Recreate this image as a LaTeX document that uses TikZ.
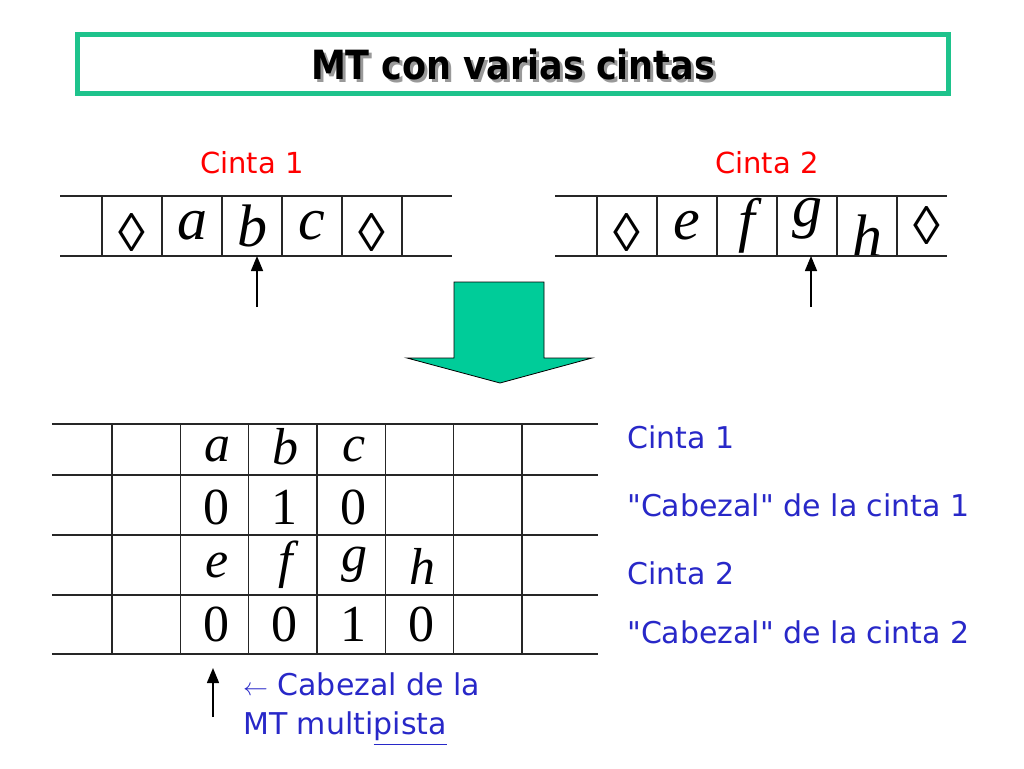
\documentclass[tikz,border=0pt]{standalone}
\usepackage{amsmath,amssymb}
\usepackage{fontspec}
\usepackage{tikz}
\usetikzlibrary{arrows.meta}
\setmainfont{DejaVu Sans}[Ligatures=TeXOff]
\newfontfamily\timesfont{Liberation Serif}
\definecolor{titlegreen}{RGB}{30,195,140}
\definecolor{arrowgreen}{RGB}{0,204,153}
\definecolor{labelblue}{RGB}{40,40,200}
\newcommand{\loz}{{\fontsize{54}{54}\selectfont ◊}}

\begin{document}
\begin{tikzpicture}
	[x=1pt, y=-1pt,
	tape/.style={line width=1.2pt, draw=black!85},
	cell/.style={minimum width=60pt, minimum height=60pt, inner sep=0pt, outer sep=0pt},
	mcell/.style={minimum width=68.33pt, inner sep=0pt, outer sep=0pt},
	sym/.style={font=\fontsize{60}{60}\selectfont\timesfont\itshape, inner sep=0pt},
	bsym/.style={font=\fontsize{52}{52}\selectfont\timesfont, inner sep=0pt},
	head/.style={line width=1.5pt, -{Triangle[width=12pt,length=15pt]}},
	tapename/.style={font=\fontsize{29}{34}\selectfont, text=red},
	bluetext/.style={font=\fontsize{30}{39}\selectfont, text=labelblue, inner sep=0pt},
	headline/.style={font=\fontsize{35}{40}\selectfont\bfseries}]
	\useasboundingbox (0,0) rectangle (1024,768);

	% title
	\node[draw=titlegreen, line width=5pt, minimum width=871pt, minimum height=59pt] (title) at (513,64) {};
	\node[headline, text=black!40] (titleshadow) at ([shift={(3,3)}]title) {\scalebox{1}[1.15]{MT con varias cintas}};
	\node[headline] (titletext) at (title) {\scalebox{1}[1.15]{MT con varias cintas}};

	% cinta 1
	\node[tapename] (name1) at (252,163) {Cinta 1};
	\foreach \s/\dy [count=\i] in {\loz/-7, a/0, b/0, c/0, \loz/-7} {
		\node[cell] (t1c\i) at (72+60*\i, 226) {};
		\node[sym, yshift=\dy pt] (t1s\i) at (t1c\i) {\s};
	}
	\foreach \i in {1,...,5}
		\draw[tape] (t1c\i.north west) -- (t1c\i.south west);
	\draw[tape] (t1c5.north east) -- (t1c5.south east);
	\draw[tape] ([xshift=-42pt]t1c1.north west) -- ([xshift=50pt]t1c5.north east);
	\draw[tape] ([xshift=-42pt]t1c1.south west) -- ([xshift=50pt]t1c5.south east);
	\coordinate (h1) at (257,307);
	\draw[head] (h1) -- (h1 |- t1c3.south);

	% cinta 2
	\node[tapename] (name2) at (767,163) {Cinta 2};
	\foreach \s/\dy [count=\i] in {\loz/-7, e/0, f/0, g/7, h/-10, \loz/0} {
		\node[cell] (t2c\i) at (567+60*\i, 226) {};
		\node[sym, yshift=\dy pt] (t2s\i) at (t2c\i) {\s};
	}
	\foreach \i in {1,...,5}
		\draw[tape] (t2c\i.north west) -- (t2c\i.south west);
	\draw[tape] (t2c5.north east) -- (t2c5.south east);
	\draw[tape] ([xshift=-42pt]t2c1.north west) -- ([xshift=-10pt]t2c6.north east);
	\draw[tape] ([xshift=-42pt]t2c1.south west) -- ([xshift=-10pt]t2c6.south east);
	\coordinate (h2) at (811,307);
	\draw[head] (h2) -- (h2 |- t2c4.south);

	% flecha verde
	\filldraw[fill=arrowgreen, draw=black, line width=0.8pt] (454,282) -- (544,282) -- (544,358) -- (592,358)
		-- (500,383) -- (407,358) -- (454,358) -- cycle;

	% cinta multipista
	\foreach \r/\yc/\h in {1/449.5/51, 2/505/60, 3/565/60, 4/624.5/59}
		\foreach \c in {1,...,6}
			\node[mcell, minimum height=\h pt] (m\r-\c) at ({77.83+68.33*\c}, \yc) {};
	\foreach \r in {1,...,4}
		\draw[tape] ([xshift=-60pt]m\r-1.north west) -- ([xshift=76pt]m\r-6.north east);
	\draw[tape] ([xshift=-60pt]m4-1.south west) -- ([xshift=76pt]m4-6.south east);
	\foreach \c in {1,...,6}
		\draw[tape] (m1-\c.north west) -- (m4-\c.south west);
	\draw[tape] (m1-6.north east) -- (m4-6.south east);
	\foreach \r/\c/\s/\dy in {1/2/a/0, 1/3/b/3, 1/4/c/0, 3/2/e/0, 3/3/f/0, 3/4/g/0, 3/5/h/-1}
		\node[bsym, font=\fontsize{52}{52}\selectfont\timesfont\itshape, yshift=\dy pt] (s\r-\c) at ([xshift=3pt]m\r-\c) {\s};
	\foreach \r/\c/\s/\dy in {2/2/0/-2, 2/3/1/-2, 2/4/0/-2, 4/2/0/0, 4/3/0/0, 4/4/1/0, 4/5/0/0}
		\node[bsym, yshift=\dy pt] (s\r-\c) at ([xshift=2pt]m\r-\c) {\s};

	% etiquetas
	\node[bluetext, anchor=west] (lab1) at (627,437) {Cinta 1};
	\node[bluetext, anchor=west] (lab2) at (627,505) {"Cabezal" de la cinta 1};
	\node[bluetext, anchor=west] (lab3) at (627,573) {Cinta 2};
	\node[bluetext, anchor=west] (lab4) at (627,632) {"Cabezal" de la cinta 2};

	% cabezal multipista
	\coordinate (mtfoot) at (213,717);
	\coordinate (mttip) at (213,668);
	\draw[head] (mtfoot) -- (mttip);
	\node[bluetext, anchor=north west, align=left] (mtlabel) at (243,672)
		{$\leftarrow$ Cabezal de la\\MT multi\underline{pista}};
\end{tikzpicture}
\end{document}
